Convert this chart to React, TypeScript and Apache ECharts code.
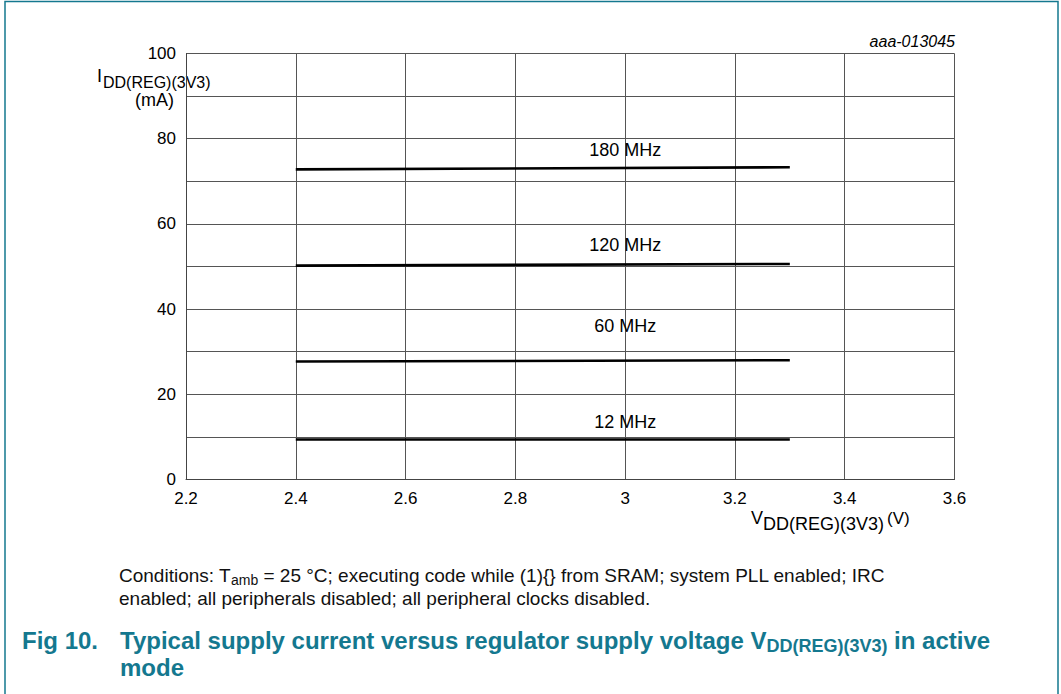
import React, { useEffect, useRef } from "react";
import * as echarts from "echarts";

const voltage = [2.4, 3.3];
const current180 = [72.8, 73.3];
const current120 = [50.2, 50.6];
const current60 = [27.7, 28.0];
const current12 = [9.4, 9.4];
const seriesNames = ["180 MHz", "120 MHz", "60 MHz", "12 MHz"];
const seriesValues = [current180, current120, current60, current12];
const labelVoltage = 3.0;
const labelCurrent = [77.3, 55.0, 36.0, 13.5];

const FONT = "'Liberation Sans', Arial, sans-serif";
const TEAL = "#14788f";

function measure(text: string, font: string): number {
  const c = document.createElement("canvas");
  const ctx = c.getContext("2d");
  if (!ctx) return text.length * 8;
  ctx.font = font;
  return ctx.measureText(text).width;
}

function txt(x: number, y: number, text: string, font: string, fill: string, align = "left") {
  return {
    type: "text",
    x,
    y,
    silent: true,
    style: { text, font, fill, align, verticalAlign: "middle" },
  };
}

export default function App() {
  const ref = useRef<HTMLDivElement>(null);
  useEffect(() => {
    if (!ref.current) return;
    const chart = echarts.init(ref.current, undefined, { renderer: "svg" });
    const series = seriesNames.map((name, i) => ({
      name,
      type: "line",
      data: voltage.map((v, j) => [v, seriesValues[i][j]]),
      showSymbol: false,
      symbol: "none",
      lineStyle: { color: "#000", width: 2.6 },
      z: 5,
      markPoint: {
        symbol: "circle",
        symbolSize: 0,
        data: [{ coord: [labelVoltage, labelCurrent[i]], value: name }],
        label: {
          show: true,
          position: "inside",
          formatter: name,
          color: "#000",
          fontSize: 18,
          fontFamily: FONT,
        },
      },
    }));

    // caption
    const capFont = `19px ${FONT}`;
    const capSubFont = `14px ${FONT}`;
    const capA = "Conditions: T";
    const capSub = "amb";
    const capB = " = 25 °C; executing code while (1){} from SRAM; system PLL enabled; IRC";
    const wA = measure(capA, capFont);
    const wSub = measure(capSub, capSubFont);
    const cap1Y = 575;
    const cap2Y = 598;

    // title
    const tFont = `bold 24px ${FONT}`;
    const tSubFont = `bold 18px ${FONT}`;
    const tA = "Typical supply current versus regulator supply voltage V";
    const tSub = "DD(REG)(3V3)";
    const tB = " in active";
    const twA = measure(tA, tFont);
    const twSub = measure(tSub, tSubFont);
    const t1Y = 640;
    const t2Y = 667;

    chart.setOption({
      animation: false,
      grid: { left: 186, top: 53.5, right: 106.5, bottom: 214.5 },
      xAxis: {
        type: "value",
        min: 2.2,
        max: 3.6,
        interval: 0.2,
        axisLine: { show: true, lineStyle: { color: "#444", width: 1 } },
        axisTick: { show: false },
        splitLine: { show: true, lineStyle: { color: "#555", width: 1 } },
        axisLabel: {
          color: "#000",
          fontSize: 17,
          fontFamily: FONT,
          margin: 10,
          formatter: (v: number) => String(Math.round(v * 10) / 10),
        },
      },
      yAxis: {
        type: "value",
        min: 0,
        max: 100,
        interval: 10,
        axisLine: { show: true, lineStyle: { color: "#444", width: 1 } },
        axisTick: { show: false },
        splitLine: { show: true, lineStyle: { color: "#555", width: 1 } },
        axisLabel: {
          color: "#000",
          fontSize: 17,
          fontFamily: FONT,
          margin: 10,
          formatter: (v: number) => (v % 20 === 0 ? String(v) : ""),
        },
      },
      series,
      graphic: [
        {
          type: "rect",
          silent: true,
          shape: { x: 5, y: 1.5, width: 1053, height: 720 },
          style: { fill: "none", stroke: TEAL, lineWidth: 1.5 },
        },
        txt(955, 41, "aaa-013045", `italic 16px ${FONT}`, "#000", "right"),
        // y axis name
        txt(97, 76, "I", `18px ${FONT}`, "#000"),
        txt(103, 82, "DD(REG)(3V3)", `16px ${FONT}`, "#000"),
        txt(174, 100, "(mA)", `18px ${FONT}`, "#000", "right"),
        // x axis name
        txt(751, 518, "V", `18px ${FONT}`, "#000"),
        txt(763, 524, "DD(REG)(3V3)", `18px ${FONT}`, "#000"),
        txt(887, 518, "(V)", `17px ${FONT}`, "#000"),
        // caption
        txt(119, cap1Y, capA, capFont, "#111"),
        txt(119 + wA, cap1Y + 5, capSub, capSubFont, "#111"),
        txt(119 + wA + wSub, cap1Y, capB, capFont, "#111"),
        txt(119, cap2Y, "enabled; all peripherals disabled; all peripheral clocks disabled.", capFont, "#111"),
        // title
        txt(22, t1Y, "Fig 10.", tFont, TEAL),
        txt(120, t1Y, tA, tFont, TEAL),
        txt(120 + twA, t1Y + 6, tSub, tSubFont, TEAL),
        txt(120 + twA + twSub, t1Y, tB, tFont, TEAL),
        txt(120, t2Y, "mode", tFont, TEAL),
      ],
    });
    return () => chart.dispose();
  }, []);
  return (
    <div
      ref={ref}
      style={{ position: "absolute", left: 0, top: 0, width: 1061, height: 694, background: "#fff" }}
    />
  );
}
